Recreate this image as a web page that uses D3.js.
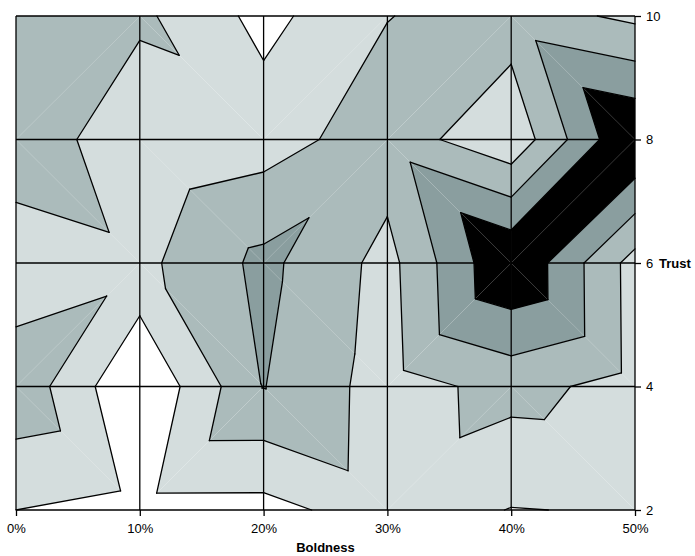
<!DOCTYPE html>
<html>
<head>
<meta charset="utf-8">
<script src="https://cdn.jsdelivr.net/npm/d3@7"></script>
<style>
  html, body { margin: 0; padding: 0; background: #fff; }
  svg { display: block; }
  text { font-family: "Liberation Sans", Arial, sans-serif; }
</style>
</head>
<body>
<svg id="chart" width="695" height="556"></svg>
<script>
// Boldness (x, %) and Trust (y) grid positions
const boldness = [0, 10, 20, 30, 40, 50];
const trust = [2, 4, 6, 8, 10];

// Surface values, one row per Trust level, one entry per Boldness column
const zAt2  = [1.00, 0.68, 0.67, 1.52, 0.97, 1.07];
const zAt4  = [2.74, 0.02, 3.03, 1.55, 2.34, 1.63];
const zAt6  = [1.21, 1.73, 3.26, 1.67, 5.00, 1.60];
const zAt8  = [2.82, 1.15, 1.55, 2.55, 1.25, 5.10];
const zAt10 = [2.60, 2.21, 0.69, 1.97, 2.48, 1.79];
const surface = [zAt2, zAt4, zAt6, zAt8, zAt10];

// Band boundaries and band fills (lowest to highest)
const levels = [1, 2, 3, 4];
const bandColors = ["#ffffff", "#d4dddd", "#abbbbb", "#8a9e9f", "#000000"];

const xTicks = [0, 10, 20, 30, 40, 50];
const yTicks = [2, 4, 6, 8, 10];

const svg = d3.select("#chart");
const x = d3.scaleLinear().domain([0, 50]).range([16, 635]);
const y = d3.scaleLinear().domain([2, 10]).range([510, 16]);

// Split every grid cell into two triangles along the diagonal whose corners are higher
const triangles = [];
for (let j = 0; j < trust.length - 1; j++) {
  for (let i = 0; i < boldness.length - 1; i++) {
    const p = (ii, jj) => ({ px: x(boldness[ii]), py: y(trust[jj]), z: surface[jj][ii] });
    const BL = p(i, j), BR = p(i + 1, j), TL = p(i, j + 1), TR = p(i + 1, j + 1);
    if (TL.z + BR.z >= TR.z + BL.z) {
      triangles.push([TL, TR, BR], [TL, BL, BR]);
    } else {
      triangles.push([TL, TR, BL], [TR, BR, BL]);
    }
  }
}

// Keep the part of a polygon on one side of a level
function clip(poly, level, above) {
  const out = [];
  const inside = v => above ? v.z >= level : v.z <= level;
  for (let k = 0; k < poly.length; k++) {
    const a = poly[k], b = poly[(k + 1) % poly.length];
    const ia = inside(a), ib = inside(b);
    if (ia) out.push(a);
    if (ia !== ib) {
      const t = (level - a.z) / (b.z - a.z);
      out.push({ px: a.px + t * (b.px - a.px), py: a.py + t * (b.py - a.py), z: level });
    }
  }
  return out;
}

const bounds = [-Infinity, ...levels, Infinity];
const bandPolys = [];
triangles.forEach(tri => {
  for (let b = 0; b < bandColors.length; b++) {
    let poly = tri;
    if (bounds[b] > -Infinity) poly = clip(poly, bounds[b], true);
    if (poly.length >= 3 && bounds[b + 1] < Infinity) poly = clip(poly, bounds[b + 1], false);
    if (poly.length >= 3) bandPolys.push({ band: b, pts: poly });
  }
});

const plot = svg.append("g");
plot.selectAll("path.band")
  .data(bandPolys)
  .join("path")
  .attr("class", "band")
  .attr("d", d => "M" + d.pts.map(v => v.px + "," + v.py).join("L") + "Z")
  .attr("fill", d => bandColors[d.band]);

// Contour lines: one straight segment per triangle and level
const segments = [];
triangles.forEach(tri => {
  levels.forEach(L => {
    const pts = [];
    for (let k = 0; k < 3; k++) {
      const a = tri[k], b = tri[(k + 1) % 3];
      const za = a.z === L ? L + 1e-9 : a.z;
      const zb = b.z === L ? L + 1e-9 : b.z;
      if ((za - L) * (zb - L) < 0) {
        const t = (L - za) / (zb - za);
        pts.push([a.px + t * (b.px - a.px), a.py + t * (b.py - a.py)]);
      }
    }
    if (pts.length === 2) segments.push(pts);
  });
});
plot.selectAll("line.contour")
  .data(segments)
  .join("line")
  .attr("class", "contour")
  .attr("x1", d => d[0][0]).attr("y1", d => d[0][1])
  .attr("x2", d => d[1][0]).attr("y2", d => d[1][1])
  .attr("stroke", "#000")
  .attr("stroke-width", 1.3)
  .attr("stroke-linecap", "round");

// Grid
const grid = svg.append("g").attr("stroke", "#000").attr("stroke-width", 1.3);
grid.selectAll("line.v").data(xTicks).join("line").attr("class", "v")
  .attr("x1", d => x(d)).attr("x2", d => x(d)).attr("y1", y(10)).attr("y2", y(2));
grid.selectAll("line.h").data(yTicks).join("line").attr("class", "h")
  .attr("x1", x(0)).attr("x2", x(50)).attr("y1", d => y(d)).attr("y2", d => y(d));

// Axes
const xAxis = svg.append("g")
  .attr("transform", `translate(0,${y(2)})`)
  .call(d3.axisBottom(x).tickValues(xTicks).tickFormat(d => d + "%").tickSize(6).tickPadding(8).tickSizeOuter(0));
const yAxis = svg.append("g")
  .attr("transform", `translate(${x(50)},0)`)
  .call(d3.axisRight(y).tickValues(yTicks).tickSize(6).tickPadding(5).tickSizeOuter(0));
[xAxis, yAxis].forEach(g => {
  g.attr("font-size", null);
  g.select(".domain").remove();
  g.selectAll(".tick line").attr("stroke", "#000").attr("stroke-width", 1.3);
  g.selectAll(".tick text").attr("fill", "#000").style("font-size", "13px")
    .style("font-family", '"Liberation Sans", Arial, sans-serif');
});

svg.append("text")
  .attr("x", (x(0) + x(50)) / 2).attr("y", 552)
  .attr("text-anchor", "middle")
  .style("font-size", "13px").style("font-weight", "bold")
  .text("Boldness");
svg.append("text")
  .attr("x", 659).attr("y", y(6)).attr("dy", "0.35em")
  .style("font-size", "13px").style("font-weight", "bold")
  .text("Trust");
</script>
</body>
</html>
